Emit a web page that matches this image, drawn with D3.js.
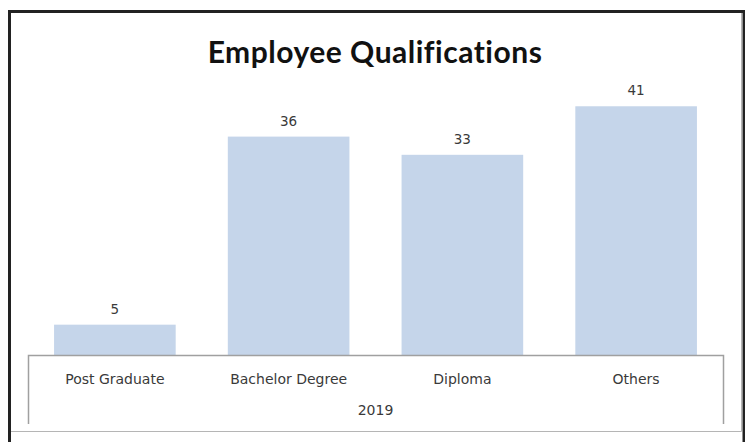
<!DOCTYPE html>
<html lang="en">
<head>
  <meta charset="UTF-8">
  <title>Employee Qualifications</title>
  <script src="https://d3js.org/d3.v7.min.js"></script>
  <style>
    body, html {
      margin: 0;
      background-color: #fff;
    }
    svg { display: block; }
    .cat, .val, .year {
      font-family: 'DejaVu Sans', sans-serif;
      fill: #3a3a3a;
    }
  </style>
</head>
<body>
<svg id="chart" width="745" height="442"></svg>
<script>
  const categories = ["Post Graduate", "Bachelor Degree", "Diploma", "Others"];
  const values = [5, 36, 33, 41];
  const groupLabel = "2019";
  const title = "Employee Qualifications";

  const svg = d3.select("#chart");

  // plot area, in page pixels
  const plotLeft = 28, plotRight = 723, baseline = 355, plotTop = 82;

  const x = d3.scaleBand()
          .domain(categories)
          .range([plotLeft, plotRight])
          .paddingInner(0.3)
          .paddingOuter(0.15);

  const y = d3.scaleLinear().domain([0, 45]).range([baseline, plotTop]);

  // outer frame (black, cut off at the bottom) and inner chart border
  svg.append("path")
          .attr("d", "M9.5,442 V11.5 H744 V442")
          .attr("fill", "none")
          .attr("stroke", "#222")
          .attr("stroke-width", 3);
  svg.append("path")
          .attr("d", "M11,431.5 H741.5 V13")
          .attr("fill", "none")
          .attr("stroke", "#b5b5b5")
          .attr("stroke-width", 1);

  svg.append("text")
          .attr("x", 375)
          .attr("y", 63)
          .attr("text-anchor", "middle")
          .style("font-family", "Lato, sans-serif")
          .style("font-weight", "bold")
          .style("font-size", "30px")
          .style("letter-spacing", "0.5px")
          .attr("fill", "#111")
          .text(title);

  svg.selectAll(".bar")
          .data(values)
          .join("rect")
          .attr("class", "bar")
          .attr("x", (d, i) => x(categories[i]))
          .attr("width", x.bandwidth())
          .attr("y", d => y(d))
          .attr("height", d => y(0) - y(d))
          .attr("fill", "#c5d5ea");

  svg.selectAll(".val")
          .data(values)
          .join("text")
          .attr("class", "val")
          .attr("x", (d, i) => x(categories[i]) + x.bandwidth() / 2)
          .attr("y", d => y(d) - 11)
          .attr("text-anchor", "middle")
          .style("font-size", "13.5px")
          .text(d => d);

  // category axis box (multi-level)
  svg.append("path")
          .attr("d", `M${plotLeft + 0.5},424 V${baseline + 0.5} H${plotRight + 0.5} V424`)
          .attr("fill", "none")
          .attr("stroke", "#a0a0a0")
          .attr("stroke-width", 1.5);

  svg.selectAll(".cat")
          .data(categories)
          .join("text")
          .attr("class", "cat")
          .attr("x", d => x(d) + x.bandwidth() / 2)
          .attr("y", 384)
          .attr("text-anchor", "middle")
          .style("font-size", "14px")
          .text(d => d);

  svg.append("text")
          .attr("class", "year")
          .attr("x", (plotLeft + plotRight) / 2)
          .attr("y", 415)
          .attr("text-anchor", "middle")
          .style("font-size", "14px")
          .text(groupLabel);
</script>
</body>
</html>
